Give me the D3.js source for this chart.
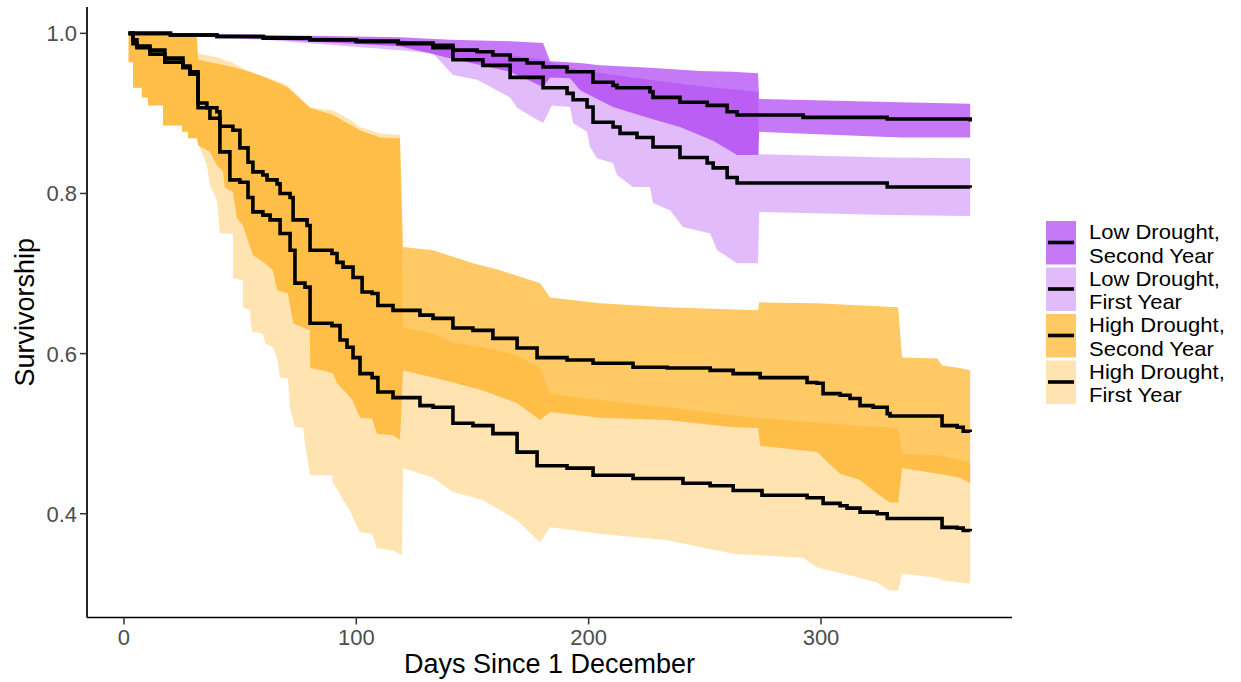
<!DOCTYPE html>
<html><head><meta charset="utf-8">
<script src="https://cdn.jsdelivr.net/npm/d3@7"></script>
<style>
body{margin:0;background:#fff}
svg{display:block}
text{font-family:"Liberation Sans",Arial,Helvetica,sans-serif}
</style>
</head><body>
<svg id="chart" width="1241" height="682"></svg>
<script>
// ---------------- DATA (days since 1 December, survivorship) ----------------
const groups = ["LD2", "LD1", "HD2", "HD1"];
const legendLabels = [["Low Drought,", "Second Year"], ["Low Drought,", "First Year"],
                      ["High Drought,", "Second Year"], ["High Drought,", "First Year"]];
const xTicks = [0, 100, 200, 300];
const yTicks = [0.4, 0.6, 0.8, 1.0];
const xTitle = "Days Since 1 December";
const yTitle = "Survivorship";

// Low drought, second year
const ld2Surv = [[2,1],[20,0.998],[40,0.996],[60,0.994],[80,0.992],[100,0.990],[118,0.988],[133,0.985],[141.6,0.979],[152,0.977],[158.8,0.973],[166.2,0.967],[173.5,0.963],[180.4,0.958],[190.7,0.952],[201.9,0.939],[210.5,0.935],[212.2,0.932],[226.4,0.927],[227.7,0.920],[239.3,0.914],[251,0.910],[259.6,0.902],[263.9,0.898],[292.3,0.895],[328.5,0.893],[364.2,0.890]];
const ld2Upper = [[2,1],[60,0.998],[118.8,0.995],[140.3,0.992],[166.2,0.990],[180.4,0.988],[183.4,0.965],[196.3,0.963],[204.9,0.960],[226.4,0.957],[248,0.953],[262.2,0.952],[272.9,0.950],[273.4,0.918],[334.1,0.914],[364.2,0.912]];
const ld2Lower = [[2,1],[60,0.993],[118.8,0.984],[140.3,0.969],[166.2,0.952],[180.4,0.933],[183.4,0.945],[192,0.944],[196.3,0.929],[210.5,0.908],[225.1,0.895],[239.3,0.883],[253.6,0.866],[263.9,0.848],[272.9,0.848],[273.4,0.877],[334.1,0.870],[364.2,0.870]];

// Low drought, first year
const ld1Surv = [[2,1],[20,0.998],[40,0.996],[60,0.994],[80,0.992],[100,0.990],[118,0.987],[133,0.982],[141.6,0.967],[154.5,0.960],[166.2,0.945],[180.4,0.932],[190.7,0.925],[193.3,0.917],[199.3,0.908],[201.9,0.889],[210.5,0.883],[213.5,0.875],[220.8,0.870],[227.7,0.858],[239.3,0.845],[251,0.838],[253.6,0.832],[259.6,0.820],[263.9,0.813],[328.5,0.808],[364.2,0.807]];
const ld1Upper = [[2,1],[60,0.998],[118.8,0.992],[140.3,0.982],[166.2,0.973],[180.4,0.967],[183.4,0.964],[196.3,0.954],[226.4,0.942],[248,0.934],[272.9,0.927],[273.4,0.849],[328.5,0.845],[364.2,0.844]];
const ld1Lower = [[2,1],[60,0.992],[118.8,0.979],[133,0.975],[141.6,0.948],[152,0.942],[166.2,0.920],[169.2,0.907],[176.1,0.895],[180.4,0.888],[184.2,0.910],[192,0.908],[193.3,0.888],[199.3,0.877],[200.6,0.858],[203.6,0.844],[210.5,0.838],[212.2,0.823],[219.1,0.808],[226.4,0.808],[227.7,0.788],[235,0.779],[240.6,0.758],[252.3,0.750],[255.3,0.729],[263.9,0.713],[272.9,0.713],[273.4,0.777],[328.5,0.773],[364.2,0.772]];

// High drought, second year
const hd2Surv = [[2,1],[3.9,0.992],[5.6,0.984],[11.2,0.979],[17.6,0.969],[25.4,0.959],[28.4,0.952],[31.9,0.913],[35.7,0.907],[40,0.902],[41.3,0.884],[46.9,0.879],[49.9,0.857],[53.4,0.839],[55.5,0.827],[59.8,0.823],[61.6,0.817],[65.9,0.812],[67.2,0.800],[71.5,0.795],[72.8,0.767],[78.8,0.760],[80.1,0.729],[89.5,0.725],[91.7,0.714],[94.3,0.708],[98.6,0.695],[102.5,0.677],[106.8,0.675],[109.3,0.660],[115.8,0.654],[127.4,0.648],[133,0.644],[141.6,0.632],[150.2,0.629],[158.8,0.619],[169.2,0.607],[177.8,0.595],[190.7,0.592],[201.9,0.588],[219.1,0.583],[233.8,0.582],[252.3,0.579],[262.2,0.575],[273.8,0.570],[294,0.564],[298.3,0.563],[300.9,0.550],[308.2,0.548],[312.5,0.544],[316.8,0.535],[322.4,0.533],[328.5,0.525],[329.7,0.522],[352.1,0.510],[358.6,0.508],[361.2,0.503],[364.2,0.502]];
const hd2Upper = [[2,1],[31.4,0.995],[31.9,0.967],[46.9,0.958],[54.2,0.952],[61.6,0.944],[70.2,0.933],[80.1,0.907],[90,0.898],[101.6,0.879],[110.2,0.870],[118.8,0.869],[120.1,0.733],[133,0.729],[150.2,0.713],[161.9,0.704],[179.1,0.688],[183.4,0.670],[204.9,0.663],[233.8,0.658],[272.9,0.654],[273.4,0.664],[298.3,0.663],[333.2,0.658],[334.9,0.595],[350,0.594],[352.1,0.585],[359.9,0.582],[364.2,0.579]];
const hd2Lower = [[2,0.964],[3.9,0.964],[3.9,0.932],[7.7,0.932],[7.7,0.920],[10.3,0.920],[10.3,0.910],[16.8,0.910],[16.8,0.885],[25,0.885],[25,0.877],[27.6,0.877],[27.6,0.869],[31.4,0.869],[31.9,0.860],[37,0.852],[40,0.835],[42.6,0.827],[43.5,0.807],[46.9,0.802],[48.6,0.769],[51.2,0.760],[53,0.744],[55.5,0.723],[60.7,0.713],[64.1,0.704],[65.9,0.679],[70.6,0.675],[72.8,0.638],[80,0.629],[80.2,0.582],[85.7,0.579],[90,0.575],[91.7,0.563],[96,0.550],[98.2,0.542],[101.6,0.520],[106.8,0.519],[108.9,0.500],[115.8,0.498],[118.8,0.492],[120.1,0.579],[133,0.570],[141.6,0.564],[154.5,0.554],[169.2,0.538],[179.1,0.517],[183.4,0.527],[204.9,0.520],[233.8,0.517],[262.2,0.508],[272.9,0.507],[273.8,0.485],[298.3,0.477],[308.2,0.450],[316.8,0.442],[324.2,0.425],[329.7,0.414],[333.2,0.414],[334.9,0.457],[350.4,0.450],[359.9,0.445],[364.2,0.438]];

// High drought, first year
const hd1Surv = [[2,1],[3.9,0.987],[5.6,0.982],[11.2,0.974],[17.6,0.964],[25.4,0.957],[28.4,0.949],[31.9,0.907],[37,0.894],[41.3,0.852],[45.6,0.817],[49.9,0.814],[53.4,0.795],[55.5,0.777],[59.8,0.773],[62.9,0.767],[67.2,0.750],[71.5,0.729],[73.6,0.688],[77.9,0.683],[80.1,0.638],[89.5,0.635],[93,0.617],[96,0.608],[98.6,0.595],[101.6,0.575],[106.8,0.570],[109.3,0.552],[115.8,0.545],[127.4,0.535],[133,0.533],[141.6,0.513],[150.2,0.510],[158.8,0.500],[169.2,0.477],[177.8,0.460],[190.7,0.457],[201.9,0.448],[219.1,0.444],[240.6,0.438],[252.3,0.435],[262.2,0.429],[274.6,0.423],[294,0.420],[300.9,0.413],[308.2,0.410],[311.2,0.407],[316.8,0.402],[324.2,0.400],[328.5,0.394],[352.1,0.383],[358.6,0.382],[361.2,0.379],[364.2,0.378]];
const hd1Upper = [[2,1],[31.4,0.995],[31.9,0.975],[40,0.970],[46.9,0.963],[54.2,0.952],[61.6,0.945],[68.4,0.938],[71.5,0.932],[80.1,0.907],[90,0.904],[97.3,0.892],[101.6,0.883],[110.2,0.875],[118.8,0.873],[120.1,0.633],[133,0.625],[141.6,0.614],[154.5,0.608],[169.2,0.598],[179.1,0.582],[183.4,0.550],[204.9,0.542],[233.8,0.533],[262.2,0.523],[272.9,0.520],[298.3,0.514],[316.8,0.510],[333.2,0.507],[334.9,0.475],[350.4,0.473],[359.9,0.467],[364.2,0.463]];
const hd1Lower = [[2,0.964],[3.9,0.964],[3.9,0.932],[7.7,0.932],[7.7,0.920],[10.3,0.920],[10.3,0.910],[16.8,0.910],[16.8,0.885],[25,0.885],[25,0.877],[27.6,0.877],[27.6,0.869],[31.4,0.869],[32.7,0.857],[35.7,0.835],[37,0.810],[40,0.792],[41.3,0.750],[46.9,0.750],[46.9,0.694],[51.2,0.692],[51.2,0.658],[54.2,0.654],[55.1,0.627],[59.8,0.625],[60.7,0.613],[64.1,0.608],[65.9,0.595],[67.2,0.570],[70.6,0.569],[71.5,0.533],[73.6,0.508],[77.1,0.507],[77.9,0.488],[80.1,0.448],[89.5,0.448],[90,0.438],[92.1,0.429],[94.3,0.417],[97.3,0.404],[98.6,0.395],[101.6,0.377],[106.8,0.375],[108.9,0.357],[115.8,0.354],[119.7,0.348],[120.1,0.457],[133,0.445],[141.6,0.427],[154.5,0.417],[169.2,0.392],[179.1,0.364],[183.4,0.383],[204.9,0.375],[233.8,0.367],[262.2,0.350],[272.9,0.348],[292.3,0.345],[298.3,0.333],[309.5,0.325],[316.8,0.320],[324.2,0.314],[329.7,0.304],[333.2,0.304],[334.9,0.325],[350,0.320],[352.1,0.317],[359.9,0.314],[364.2,0.313]];

// ---------------- STYLE ----------------
const fills = {LD2: "rgb(160,32,240)", LD1: "rgb(160,32,240)", HD2: "rgb(255,165,0)", HD1: "rgb(255,165,0)"};
const alphas = {LD2: 0.6, LD1: 0.3, HD2: 0.6, HD1: 0.3};

const series = {
  LD2: {surv: ld2Surv, up: ld2Upper, lo: ld2Lower},
  LD1: {surv: ld1Surv, up: ld1Upper, lo: ld1Lower},
  HD2: {surv: hd2Surv, up: hd2Upper, lo: hd2Lower},
  HD1: {surv: hd1Surv, up: hd1Upper, lo: hd1Lower}
};

const W = 1241, H = 682;
const panel = {left: 87, right: 1012, top: 7, bottom: 617.5};

const x = d3.scaleLinear().domain([-15.9, 382.2]).range([panel.left, panel.right]);
const y = d3.scaleLinear().domain([0.2704, 1.0329]).range([panel.bottom, panel.top]);

const svg = d3.select("#chart");
svg.append("rect").attr("width", W).attr("height", H).attr("fill", "#fff");

const g = svg.append("g");

// ribbons
const edge = d3.line().x(d => x(d[0])).y(d => y(d[1]));
["HD1", "HD2", "LD1", "LD2"].forEach(k => {
  const s = series[k];
  const poly = s.up.concat(s.lo.slice().reverse());
  g.append("path")
    .attr("d", edge(poly) + "Z")
    .attr("fill", fills[k])
    .attr("fill-opacity", alphas[k])
    .attr("stroke", "none");
});

// survival step lines
const step = d3.line().x(d => x(d[0])).y(d => y(d[1])).curve(d3.curveStepAfter);
["HD1", "HD2", "LD1", "LD2"].forEach(k => {
  g.append("path")
    .attr("d", step(series[k].surv))
    .attr("fill", "none")
    .attr("stroke", "#000")
    .attr("stroke-width", 3.6)
    .attr("stroke-linejoin", "miter");
});

// axes
const axisCol = "#000";
const tickCol = "#333";
const textCol = "#4d4d4d";
svg.append("line").attr("x1", panel.left).attr("x2", panel.left)
  .attr("y1", panel.top).attr("y2", panel.bottom)
  .attr("stroke", axisCol).attr("stroke-width", 1.7);
svg.append("line").attr("x1", panel.left).attr("x2", panel.right)
  .attr("y1", panel.bottom).attr("y2", panel.bottom)
  .attr("stroke", axisCol).attr("stroke-width", 1.7);

xTicks.forEach(t => {
  svg.append("line").attr("x1", x(t)).attr("x2", x(t))
    .attr("y1", panel.bottom).attr("y2", panel.bottom + 7)
    .attr("stroke", tickCol).attr("stroke-width", 1.5);
  svg.append("text").attr("x", x(t)).attr("y", 645)
    .attr("text-anchor", "middle").attr("font-size", 22).attr("fill", textCol)
    .text(d3.format("d")(t));
});
yTicks.forEach(t => {
  svg.append("line").attr("x1", panel.left - 7).attr("x2", panel.left)
    .attr("y1", y(t)).attr("y2", y(t))
    .attr("stroke", tickCol).attr("stroke-width", 1.5);
  svg.append("text").attr("x", 77).attr("y", y(t)).attr("dy", "0.36em")
    .attr("text-anchor", "end").attr("font-size", 22).attr("fill", textCol)
    .text(d3.format(".1f")(t));
});

// axis titles
svg.append("text").attr("x", (panel.left + panel.right) / 2).attr("y", 673)
  .attr("text-anchor", "middle").attr("font-size", 27).attr("fill", "#000")
  .text(xTitle);
svg.append("text")
  .attr("transform", `translate(34,${(panel.top + panel.bottom) / 2}) rotate(-90)`)
  .attr("text-anchor", "middle").attr("font-size", 27).attr("fill", "#000")
  .text(yTitle);

// legend
const leg = svg.append("g").attr("transform", "translate(1046,221)");
const legFont = 20.2;
groups.forEach((k, i) => {
  const gy = i * 46.5;
  leg.append("rect").attr("x", 0).attr("y", gy).attr("width", 30).attr("height", 43.5)
    .attr("fill", fills[k]).attr("fill-opacity", alphas[k]);
  leg.append("line").attr("x1", 2).attr("x2", 28)
    .attr("y1", gy + 21.5).attr("y2", gy + 21.5)
    .attr("stroke", "#000").attr("stroke-width", 3.6);
  legendLabels[i].forEach((ln, j) => {
    const t = leg.append("text").attr("x", 43).attr("y", gy + 18 + j * 23.5)
      .attr("font-size", legFont).attr("fill", "#000").text(ln);
    // widen glyphs slightly to match the reference's wider legend text
    const w = t.node().getComputedTextLength();
    t.attr("textLength", w * 1.09).attr("lengthAdjust", "spacingAndGlyphs");
  });
});
</script>
</body></html>
